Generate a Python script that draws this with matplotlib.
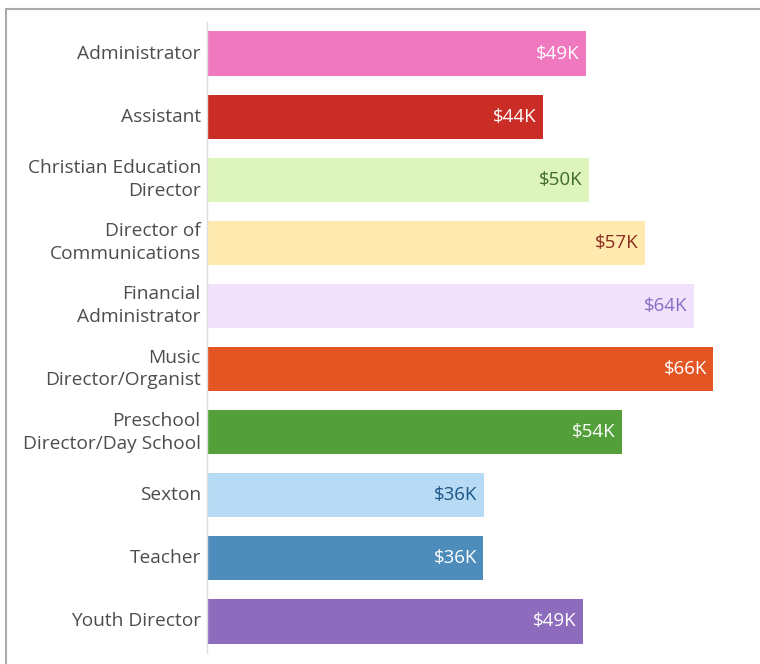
import matplotlib.pyplot as plt
from matplotlib.lines import Line2D

plt.rcParams['font.family'] = ['Open Sans', 'DejaVu Sans']

# Data
roles = ["Administrator", "Assistant", "Christian Education\nDirector",
         "Director of\nCommunications", "Financial\nAdministrator",
         "Music\nDirector/Organist", "Preschool\nDirector/Day School",
         "Sexton", "Teacher", "Youth Director"]
salaries = [49.4, 43.8, 49.8, 57.1, 63.5, 66.0, 54.1, 36.1, 36.0, 49.0]  # $K

bar_colors = ['#f078bf', '#c92d26', '#ddf4bc', '#feeaae', '#f1e1fb',
              '#e35522', '#53a03a', '#b7dbf4', '#4e8dbb', '#8d6cbe']
text_colors = ['white', 'white', '#3e6a2c', '#8e2b20', '#8b6cc4',
               'white', 'white', '#1c5684', 'white', 'white']

fig = plt.figure(figsize=(7.6, 6.64), dpi=100)
ax = fig.add_axes([207/760, 11/664, 533/760, 631/664])

ypos = list(range(len(roles)))
ax.barh(ypos, salaries, height=0.70, color=bar_colors)

for y, v, tc in zip(ypos, salaries, text_colors):
    ax.annotate("${:.0f}K".format(v), xy=(v, y), xytext=(-4.5, 0),
                textcoords='offset points', ha='right', va='center',
                color=tc, fontsize=13.5)

ax.set_yticks(ypos)
ax.set_yticklabels(roles, fontsize=13.8, color='#4d4d4d', linespacing=1.35)
for lbl in ax.get_yticklabels():
    lbl.set_va('center')
ax.tick_params(axis='y', length=0, pad=4.5)
ax.set_xticks([])
ax.set_xlim(0, 533/7.67)
ax.set_ylim(9.5, -0.5)

for s in ['top', 'right', 'bottom']:
    ax.spines[s].set_visible(False)
ax.spines['left'].set_color('#dddddd')
ax.spines['left'].set_linewidth(1)

# outer frame (top and left edges visible)
fig.add_artist(Line2D([6/760, 1], [1 - 9/664, 1 - 9/664], color='#aaaaaa', lw=1.5,
                      transform=fig.transFigure))
fig.add_artist(Line2D([6/760, 6/760], [0, 1 - 9/664], color='#aaaaaa', lw=1.5,
                      transform=fig.transFigure))

plt.savefig('out.png', dpi=100)
